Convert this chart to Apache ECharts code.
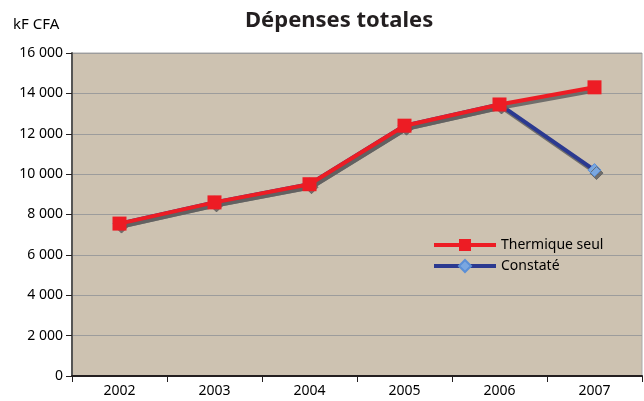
<!DOCTYPE html>
<html><head><meta charset="utf-8">
<script src="https://cdn.jsdelivr.net/npm/echarts@6/dist/echarts.min.js"></script>
<style>html,body{margin:0;padding:0;background:#fff}#c{width:644px;height:401px}</style>
</head><body><div id="c"></div>
<script>
const categories = ['2002','2003','2004','2005','2006','2007'];
const thermique = [7550, 8600, 9500, 12400, 13450, 14300];
const constate = [7550, 8600, 9500, 12400, 13450, 10200];
const yTicks = [0, 2000, 4000, 6000, 8000, 10000, 12000, 14000, 16000];
const titleText = 'Dépenses totales';
const unitText = 'kF CFA';

const FONT = 'Noto Sans';
const chart = echarts.init(document.getElementById('c'), null, {renderer:'canvas'});
const fmt = v => String(v).replace(/\B(?=(\d{3})+(?!\d))/g, ' ');
const shadow = {shadowColor:'rgba(95,95,95,0.85)', shadowOffsetX:2, shadowOffsetY:3, shadowBlur:0};
chart.setOption({
  animation:false,
  backgroundColor:'#ffffff',
  title:{text:titleText, left:240, top:5, textStyle:{fontFamily:FONT, fontWeight:'bold', fontSize:22, color:'#231f20'}},
  graphic:[{type:'text', left:13, top:17, style:{text:unitText, fontFamily:FONT, fontSize:15, fill:'#000'}}],
  grid:{left:72, right:2, top:53, bottom:25, show:true, backgroundColor:'#cdc2b1', borderColor:'#a8a8a8', borderWidth:1},
  legend:{orient:'vertical', left:427, top:233, itemWidth:62, itemHeight:15, itemGap:7,
    textStyle:{fontFamily:FONT, fontSize:14, color:'#000'},
    data:[{name:'Thermique seul', lineStyle:{width:4}},{name:'Constaté', lineStyle:{width:4}}]},
  xAxis:{type:'category', data:categories, boundaryGap:true,
    axisLine:{lineStyle:{color:'#231f20', width:2}},
    axisTick:{show:true, length:6, lineStyle:{color:'#231f20'}},
    axisLabel:{fontFamily:FONT, fontSize:14, color:'#000', margin:8}},
  yAxis:{type:'value', min:0, max:16000, interval:2000,
    axisLine:{show:true, lineStyle:{color:'#555', width:2}},
    axisTick:{show:true, length:6, lineStyle:{color:'#231f20'}},
    axisLabel:{fontFamily:FONT, fontSize:14, color:'#000', margin:9, formatter:v => yTicks.includes(v) ? fmt(v) : ''},
    splitLine:{lineStyle:{color:'#9c9c9c', width:1}}},
  series:[
    {name:'Constaté', type:'line', data:constate, z:2, symbol:'diamond', symbolSize:13,
      itemStyle:{color:'#7aa7e0', borderColor:'#5b8fd6', borderWidth:1, ...shadow},
      lineStyle:{color:'#2b3990', width:4, ...shadow}},
    {name:'Thermique seul', type:'line', data:thermique, z:3, symbol:'rect', symbolSize:14,
      itemStyle:{color:'#ed1c24'},
      lineStyle:{color:'#ed1c24', width:4, ...shadow}}
  ]
});
</script></body></html>
